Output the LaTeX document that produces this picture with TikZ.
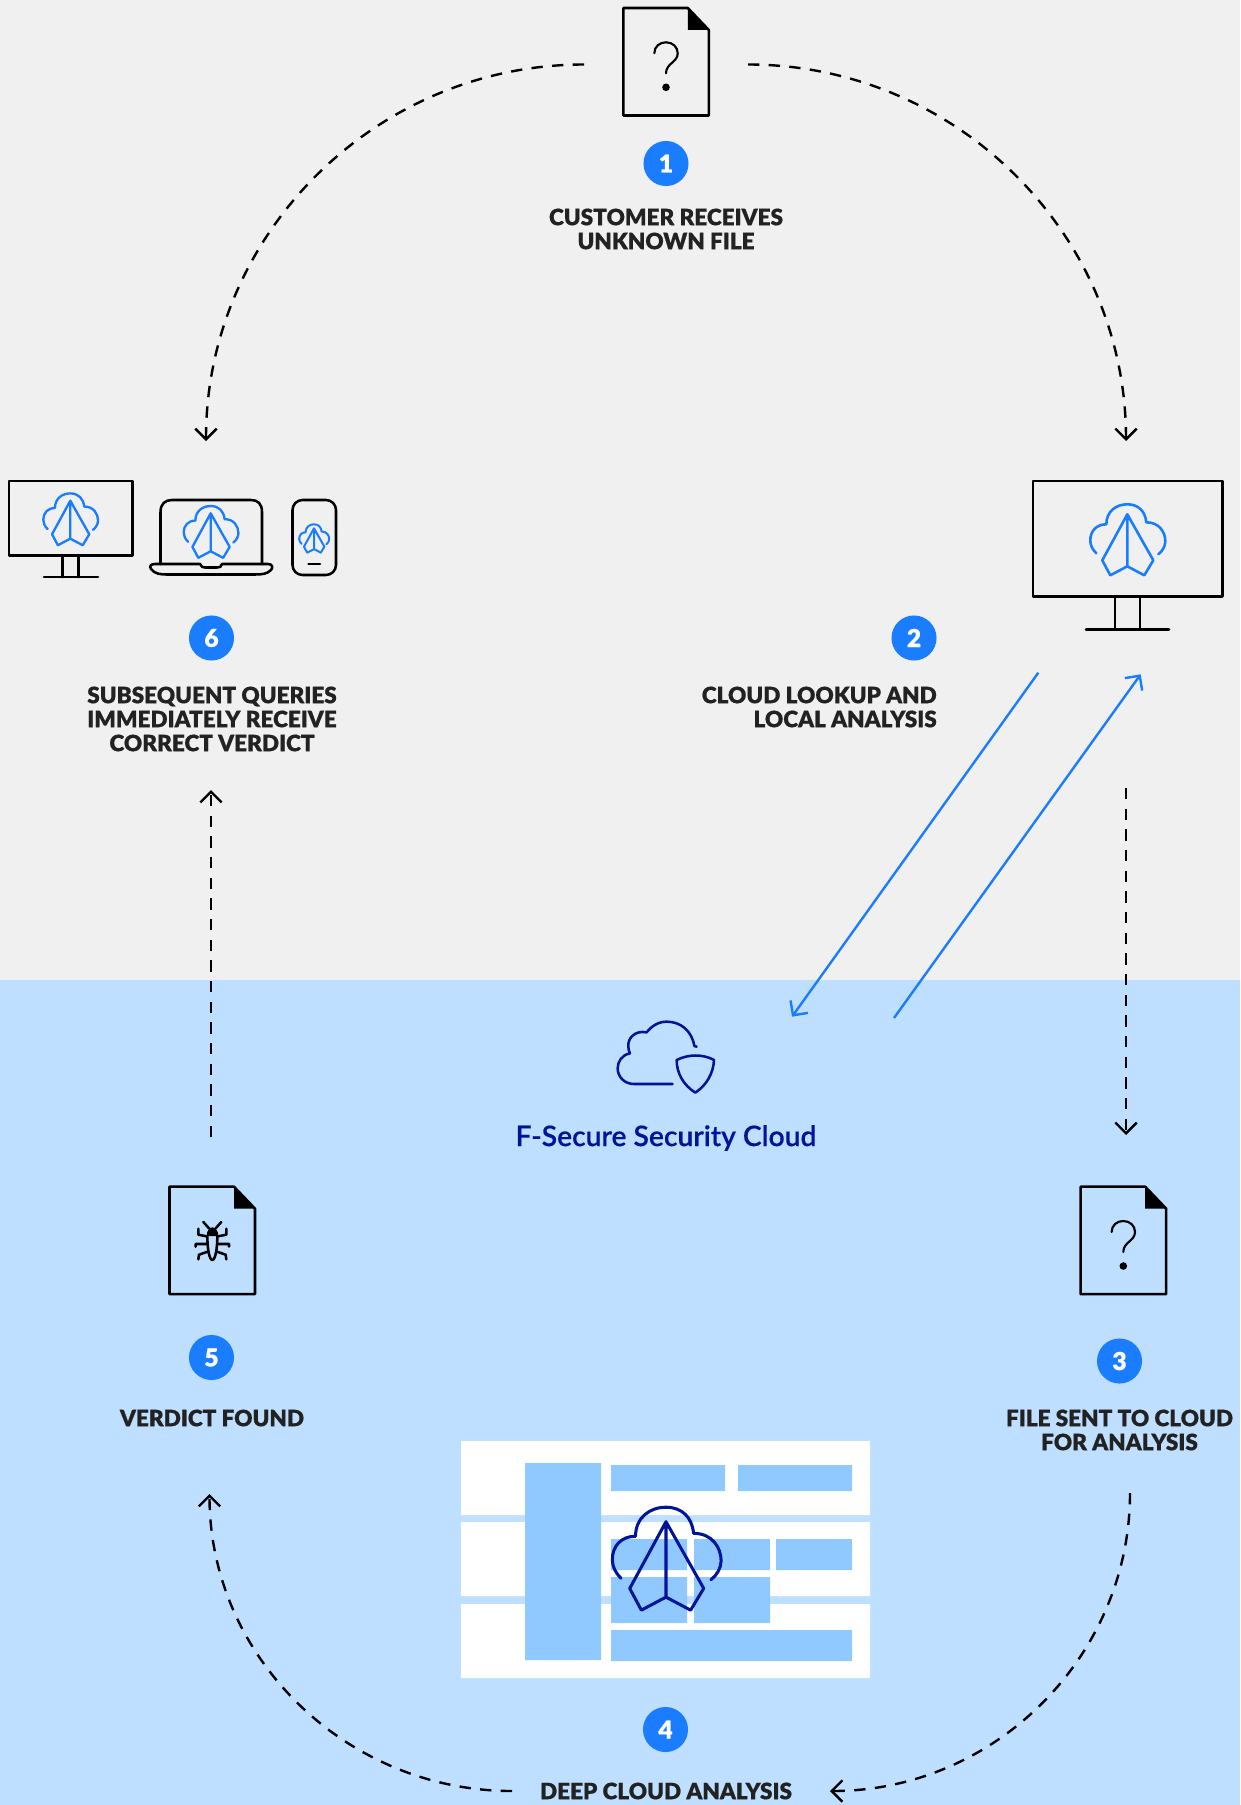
\documentclass[tikz,border=0pt]{standalone}
\usepackage{fontspec}
\usetikzlibrary{arrows.meta}
\setmainfont{Lato}
\newfontfamily\lblfont[FakeBold=0.6]{Lato Black}
\newfontfamily\cloudfont[FakeBold=0.3]{Lato Semibold}
\definecolor{bggray}{HTML}{F0F0F0}
\definecolor{bgblue}{HTML}{BEDFFF}
\definecolor{barblue}{HTML}{90C9FF}
\definecolor{accent}{HTML}{1A7DFF}
\definecolor{navy}{HTML}{00149A}
\definecolor{ink}{HTML}{222222}
\tikzset{
  icon/.style={line width=1.9pt,line join=round,line cap=round,draw=black},
  flow/.style={line width=1.8pt,black,dash pattern=on 8.5pt off 7pt,-{Straight Barb[length=8pt,width=16pt,line width=1.8pt]}},
  direct/.style={line width=1.8pt,accent,-{Straight Barb[length=8pt,width=16pt,line width=1.8pt]}},
  badge/.style={circle,fill=accent,minimum size=33.8pt,inner sep=0pt,text=white,font=\lblfont\fontsize{18.5}{18.5}\selectfont},
  steplabel/.style={inner sep=0pt,text=ink,font=\lblfont\fontsize{16.9}{18}\selectfont},
}
% paper plane in a cloud: #1 apex x, #2 apex y, #3 scale, #4 colour
\newcommand{\planeicon}[4]{%
\begin{scope}[shift={(#1,#2)},x=#3*0.75pt,y=-#3*0.75pt,draw=#4,line width={1.2pt+0.75pt*#3},line join=round,line cap=round]
 \draw[#4] (-31,39) .. controls (-35,35) and (-37,31) .. (-37,26) .. controls (-37,17) and (-31,10) .. (-21,10)
   .. controls (-21,-3) and (-11,-10) .. (0,-10) .. controls (11,-10) and (18,-3) .. (19,8)
   .. controls (32,8) and (38,18) .. (38,27) .. controls (38,32) and (35,37) .. (31,40);
 \draw[#4] (0,52) -- (-17,61) -- (-25,46) -- (0,0) -- (26,46) -- (17,61) -- cycle (0,0) -- (0,52);
\end{scope}}
% document with a folded corner: #1 left, #2 top
\newcommand{\docicon}[2]{%
\begin{scope}[shift={(#1,#2)}]
 \draw[icon] (0,0) -- (64.5,0) -- (85.5,22) -- (85.5,107.5) -- (0,107.5) -- cycle;
 \fill[black] (64.5,0) -- (85.5,22) -- (64.5,22) -- cycle;
\end{scope}}
\newcommand{\questionmark}[2]{%
\begin{scope}[shift={(#1,#2)}]
 \draw[line width=1.6pt,line cap=round] (-11.7,-34) .. controls (-11.7,-41) and (-6,-45) .. (0,-45) .. controls (7,-45) and (11.7,-40) .. (11.7,-34) .. controls (11.7,-25) and (0,-24) .. (0,-14);
 \fill (0,0) circle (3.8);
\end{scope}}
\begin{document}
\begin{tikzpicture}[x=0.75pt,y=-0.75pt]
\useasboundingbox (0,0) rectangle (1240,1805);
\fill[bggray] (0,0) rectangle (1240,980);
\fill[bgblue] (0,980) rectangle (1240,1805);

% step 4 table
\begin{scope}[shift={(450,1430)},x=0.25pt,y=-0.25pt]
 \fill[white] (33,33) rectangle (1260,255) (33,276) rectangle (1260,498) (33,522) rectangle (1260,744);
 \fill[barblue] (225,99) rectangle (453,690) (483,105) rectangle (825,183) (864,105) rectangle (1206,183)
  (483,327) rectangle (711,420) (732,327) rectangle (960,420) (978,327) rectangle (1206,420)
  (483,441) rectangle (711,579) (732,441) rectangle (960,579) (483,600) rectangle (1206,693);
\end{scope}
\planeicon{666}{1521.7}{1.45}{navy}

% step 1
\docicon{623.3}{8}
\questionmark{666}{87.3}
% step 3
\docicon{1080.7}{1186.7}
\questionmark{1123.3}{1266}
% step 5
\docicon{169.5}{1186.7}
\begin{scope}[shift={(130,1170)},x=0.25pt,y=-0.25pt]
 \fill[black] (230,198) .. controls (230,182) and (238,172) .. (247,172) .. controls (256,172) and (265,182) .. (265,198) -- cycle;
 \draw[line width=1.9pt,line cap=round,line join=round]
  (232,198) .. controls (232,235) and (238,270) .. (247,270) .. controls (256,270) and (262,235) .. (262,198)
  (220,156) -- (237,175) (274,156) -- (257,175)
  (205,176) -- (205,194) -- (230,199) (289,176) -- (289,194) -- (264,199)
  (197,230) -- (197,222) -- (232,222) (297,230) -- (297,222) -- (262,222)
  (205,268) -- (207,254) -- (233,245) (289,268) -- (287,254) -- (261,245);
\end{scope}

% desktop right
\draw[icon] (1033,481) rectangle (1222.3,596.7);
\draw[icon] (1115,596.7) -- (1115,629.3) (1140,596.7) -- (1140,629.3) (1086,629.3) -- (1169,629.3);
\planeicon{1127.3}{514.3}{1}{accent}
% desktop left
\draw[icon] (9,481) rectangle (132.5,555.5);
\draw[icon] (62.5,555.5) -- (62.5,577) (78.5,555.5) -- (78.5,577) (44,577) -- (98,577);
\planeicon{70.3}{500.7}{0.73}{accent}
% laptop
\draw[icon] (160.5,564) -- (160.5,512) .. controls (160.5,504) and (165,500) .. (172,500) -- (251,500) .. controls (258,500) and (262,504) .. (262,512) -- (262,564);
\draw[icon] (155,564) -- (200,564) .. controls (201,567) and (203,567.5) .. (205,567.5) -- (217,567.5) .. controls (220,567.5) and (221,567) .. (222,564) -- (268,564) .. controls (273,564) and (273,568) .. (271,570) .. controls (267,574) and (262,574.5) .. (255,574.5) -- (168,574.5) .. controls (160,574.5) and (155,574) .. (151,569) .. controls (149,566) and (151,564) .. (155,564) -- cycle;
\planeicon{210.7}{513.3}{0.73}{accent}
% phone
\draw[icon,rounded corners=7.5pt] (292.5,500) rectangle (336,575);
\draw[icon] (308.5,564) -- (320,564);
\planeicon{314}{528.3}{0.4}{accent}

% cloud with shield
\begin{scope}[shift={(500,980)},x=0.25pt,y=-0.25pt]
 \draw[navy,line width=1.9pt,line cap=round,line join=round] (590,200) -- (583,198) .. controls (575,150) and (540,125) .. (500,125) .. controls (475,125) and (455,138) .. (440,157) .. controls (405,150) and (382,175) .. (385,200) .. controls (385,208) and (387,214) .. (390,220) .. controls (365,225) and (353,245) .. (353,265) .. controls (353,292) and (375,312) .. (402,312) -- (518,312);
 \draw[navy,line width=1.9pt,line cap=round,line join=round] (530,240) .. controls (565,222) and (610,222) .. (642,240) .. controls (640,280) and (620,315) .. (586,338) .. controls (550,315) and (530,280) .. (530,240) -- cycle;
\end{scope}
\node[inner sep=0pt,text=navy,font=\cloudfont\fontsize{21.2}{21.2}\selectfont] (cloudlbl) at (666,1138) {F-Secure Security Cloud};

% badges
\node[badge] (b1) at (666,163.5) {1};
\node[badge] (b2) at (914,638) {2};
\node[badge] (b3) at (1119.5,1361) {3};
\node[badge] (b4) at (665.5,1729.5) {4};
\node[badge] (b5) at (211.5,1357.5) {5};
\node[badge] (b6) at (211.5,638) {6};

% labels
\node[steplabel,align=center] (l1) at (666,229) {CUSTOMER RECEIVES\\UNKNOWN FILE};
\node[steplabel,align=right,anchor=east] (l2) at (937,707) {CLOUD LOOKUP AND\\LOCAL ANALYSIS};
\node[steplabel,align=center] (l3) at (1119.5,1430) {FILE SENT TO CLOUD\\FOR ANALYSIS};
\node[steplabel] (l4) at (666,1791) {DEEP CLOUD ANALYSIS};
\node[steplabel] (l5) at (212,1418) {VERDICT FOUND};
\node[steplabel,align=center] (l6) at (212,719) {SUBSEQUENT QUERIES\\IMMEDIATELY RECEIVE\\CORRECT VERDICT};

% connector ends
\coordinate (a1) at (584,64.5);
\coordinate (a2) at (206,441);
\coordinate (a3) at (748,64.5);
\coordinate (a4) at (1126,441);
\coordinate (a5) at (1126,788);
\coordinate (a6) at (1126,1135);
\coordinate (a7) at (1130,1493);
\coordinate (a8) at (830,1791);
\coordinate (a9) at (512,1791);
\coordinate (a10) at (209.5,1494);
\coordinate (a11) at (211,1137);
\coordinate (a12) at (211,790);
\coordinate (a13) at (1038.3,672.7);
\coordinate (a14) at (792,1016.7);
\coordinate (a15) at (894,1018);
\coordinate (a16) at (1140.7,674.3);

\draw[flow] (a1) .. controls +(-208,0) and +(0,-207) .. (a2);
\draw[flow] (a3) .. controls +(208,0) and +(0,-207) .. (a4);
\draw[flow] (a5) -- (a6);
\draw[flow] (a7) .. controls +(0,164) and +(164,0) .. (a8);
\draw[flow] (a9) .. controls +(-166,0) and +(0,163) .. (a10);
\draw[flow] (a11) -- (a12);
\draw[direct] (a13) -- (a14);
\draw[direct] (a15) -- (a16);
\end{tikzpicture}
\end{document}
